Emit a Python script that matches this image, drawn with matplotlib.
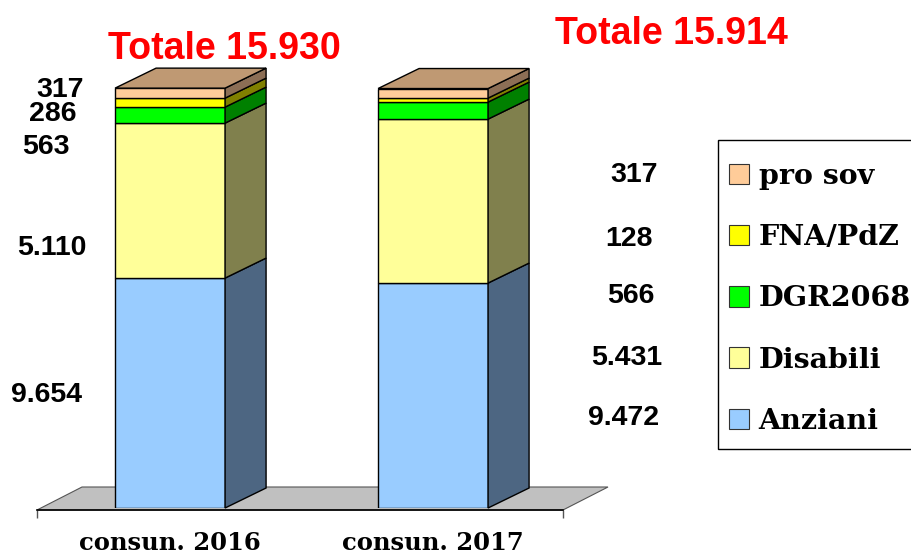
import matplotlib
matplotlib.use('Agg')
import matplotlib.pyplot as plt
from matplotlib.patches import Polygon, Patch, Rectangle

W, H = 912, 554

categories = ['consun. 2016', 'consun. 2017']
series = ['Anziani', 'Disabili', 'DGR2068', 'FNA/PdZ', 'pro sov']

# heights as drawn in the picture (they do not follow the printed labels exactly)
drawn_2016 = [8723, 5879, 607, 341, 379]
drawn_2017 = [8534, 6220, 645, 152, 363]

labels_2016 = ['9.654', '5.110', '563', '286', '317']
labels_2017 = ['9.472', '5.431', '566', '128', '317']
totals = ['Totale 15.930', 'Totale 15.914']

front_colors = ['#99CCFF', '#FFFF99', '#00FF00', '#FFFF00', '#FFCC99']
side_colors = ['#4D6682', '#80804D', '#008000', '#808000', '#8C6E55']
top_color = '#BF9973'

SANS = 'Liberation Sans'
SERIF = 'DejaVu Serif'

fig = plt.figure(figsize=(W / 100, H / 100), dpi=100)
ax = fig.add_axes([37 / W, (H - 508) / H, 526 / W, 422 / H])
ax.set_xlim(-0.506, 1.494)
ax.set_ylim(0, 16010)

# depth of the fake 3D, in data units
px = 16010 / 422
dx = 41 / 263
dy = 20 * px
bar_w = 110 / 263

# floor, its front edge sits just under the bars
x0, x1 = ax.get_xlim()
floor_dx = 45 / 263
floor_low = -2 * px
floor_dy = 21 * px
ax.add_patch(Polygon([(x0, floor_low), (x1, floor_low), (x1 + floor_dx, floor_dy), (x0 + floor_dx, floor_dy)],
                     facecolor='#C0C0C0', edgecolor='#555555', lw=0.8, clip_on=False, zorder=1))

for i, values in enumerate([drawn_2016, drawn_2017]):
    bottom = 0
    left = i - bar_w / 2
    right = i + bar_w / 2
    for v, fc, sc in zip(values, front_colors, side_colors):
        ax.bar(i, v, bar_w, bottom=bottom, color=fc, edgecolor='black', lw=1.0, zorder=3)
        ax.add_patch(Polygon([(right, bottom), (right + dx, bottom + dy),
                              (right + dx, bottom + v + dy), (right, bottom + v)],
                             facecolor=sc, edgecolor='black', lw=1.0, clip_on=False, zorder=3))
        bottom += v
    ax.add_patch(Polygon([(left, bottom), (right, bottom), (right + dx, bottom + dy), (left + dx, bottom + dy)],
                         facecolor=top_color, edgecolor='black', lw=1.0, clip_on=False, zorder=3))

for s in ['top', 'left', 'right']:
    ax.spines[s].set_visible(False)
ax.spines['bottom'].set_linewidth(1.2)
ax.spines['bottom'].set_zorder(2)
ax.spines['bottom'].set_position(('outward', 1.5))
ax.set_yticks([])
ax.set_xticks([x0, x1])
ax.set_xticklabels([])
ax.set_xticks([0, 1], minor=True)
ax.set_xticklabels(categories, minor=True, family=SERIF, fontweight='bold', fontsize=17.5)
ax.tick_params(axis='x', which='major', length=6, width=1, color='#555555')
ax.tick_params(axis='x', which='minor', length=0, pad=15)
ax.patch.set_alpha(0)


def put(x, y, s, **kw):
    fig.text(x / W, 1 - y / H, s, ha='center', va='center', family=SANS, fontweight='bold', **kw)


put(224, 49, totals[0], fontsize=27, color='#FF0000')
put(671, 34, totals[1], fontsize=27, color='#FF0000')

pos_2016 = [(47, 395), (52, 248), (46, 147), (53, 114), (60, 90)]
pos_2017 = [(624, 418), (627, 358), (631, 296), (629, 239), (634, 175)]
for (x, y), s in zip(pos_2016, labels_2016):
    put(x, y, s, fontsize=20.5)
for (x, y), s in zip(pos_2017, labels_2017):
    put(x, y, s, fontsize=20.5)

# legend frame runs off the right side of the picture
fig.add_artist(Rectangle((718 / W, 1 - 449 / H), 210 / W, 309 / H, transform=fig.transFigure,
                         facecolor='white', edgecolor='black', lw=1.0))
handles = [Patch(facecolor=c, edgecolor='#333333', lw=0.8, label=s)
           for c, s in zip(front_colors[::-1], series[::-1])]
leg = fig.legend(handles=handles, loc='upper left', bbox_to_anchor=(729 / W, 1 - 163 / H),
                 bbox_transform=fig.transFigure, borderaxespad=0, frameon=False,
                 handlelength=0.72, handleheight=0.72, handletextpad=0.32,
                 labelspacing=1.2, borderpad=0,
                 prop={'family': SERIF, 'weight': 'bold', 'size': 20.5})

fig.savefig('out.png', dpi=100)
